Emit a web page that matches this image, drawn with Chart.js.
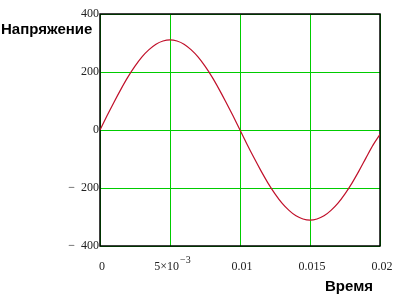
<!DOCTYPE html>
<html>
<head>
<meta charset="utf-8">
<script src="https://cdn.jsdelivr.net/npm/chart.js@4"></script>
<style>
  html, body { margin: 0; padding: 0; background: #fff; }
  canvas { display: block; }
</style>
</head>
<body>
<canvas id="myChart" width="403" height="307"></canvas>
<script>
// time (s) and voltage
const times = [0, 0.0005, 0.001, 0.0015, 0.002, 0.0025, 0.003, 0.0035, 0.004, 0.0045,
               0.005, 0.0055, 0.006, 0.0065, 0.007, 0.0075, 0.008, 0.0085, 0.009, 0.0095,
               0.01, 0.0105, 0.011, 0.0115, 0.012, 0.0125, 0.013, 0.0135, 0.014, 0.0145,
               0.015, 0.0155, 0.016, 0.0165, 0.017, 0.0175, 0.018, 0.0185, 0.019, 0.0195, 0.02];
const voltage = [0, 49, 96, 141, 183, 220, 252, 277, 296, 307,
                 311, 307, 296, 277, 252, 220, 183, 141, 96, 49,
                 0, -49, -96, -141, -183, -220, -252, -277, -296, -307,
                 -311, -307, -296, -277, -252, -220, -183, -141, -96, -52, -15];
const xTicks = [0, 0.005, 0.01, 0.015, 0.02];
const xTickText = ['0', null, '0.01', '0.015', '0.02'];
const yLabel = 'Напряжение';
const xLabel = 'Время';

const serif = "'Liberation Serif', 'Times New Roman', serif";
const sans = "'Liberation Sans', Arial, sans-serif";
const gridGreen = '#00cc00';

const extras = {
    id: 'extras',
    beforeDatasetsDraw(chart) {
        const { ctx, chartArea: a } = chart;
        ctx.save();
        ctx.strokeStyle = '#000';
        ctx.lineWidth = 1.5;
        ctx.strokeRect(a.left, a.top, a.right - a.left, a.bottom - a.top);
        ctx.restore();
    },
    afterDraw(chart) {
        const { ctx } = chart;
        const xs = chart.scales.x;
        ctx.save();
        ctx.fillStyle = '#222';
        ctx.textBaseline = 'alphabetic';
        xTicks.forEach((v, i) => {
            const px = xs.getPixelForValue(v) + 2;
            ctx.font = '12px ' + serif;
            if (xTickText[i] !== null) {
                ctx.textAlign = 'center';
                ctx.fillText(xTickText[i], px, 270);
            } else {
                ctx.textAlign = 'left';
                const base = '5\u00d710';
                const w = ctx.measureText(base).width;
                ctx.font = '10px ' + serif;
                const sw = ctx.measureText('\u22123').width;
                const x0 = px - (w + sw) / 2;
                ctx.font = '12px ' + serif;
                ctx.fillText(base, x0, 270);
                ctx.font = '10px ' + serif;
                ctx.fillText('\u22123', x0 + w + 1, 263);
            }
        });
        ctx.fillStyle = '#000';
        ctx.font = 'bold 15px ' + sans;
        ctx.textAlign = 'left';
        ctx.textBaseline = 'middle';
        ctx.fillText(yLabel, 1, 30);
        ctx.fillText(xLabel, 325, 287);
        ctx.restore();
    }
};

new Chart(document.getElementById('myChart').getContext('2d'), {
    type: 'line',
    data: {
        datasets: [{
            data: times.map((t, i) => ({ x: t, y: voltage[i] })),
            borderColor: '#c0102a',
            borderWidth: 1.2,
            pointRadius: 0,
            fill: false,
            cubicInterpolationMode: 'monotone'
        }]
    },
    options: {
        responsive: false,
        animation: false,
        layout: { padding: { left: 0, top: 14, right: 23, bottom: 0 } },
        plugins: { legend: { display: false }, tooltip: { enabled: false } },
        scales: {
            x: {
                type: 'linear', min: 0, max: 0.02,
                afterBuildTicks: s => { s.ticks = xTicks.map(v => ({ value: v })); },
                afterFit: s => { s.height = 61; },
                ticks: { display: false },
                grid: { color: gridGreen, lineWidth: 1, drawTicks: false },
                border: { display: false }
            },
            y: {
                min: -400, max: 400,
                afterFit: s => { s.width = 100; },
                ticks: {
                    stepSize: 200, padding: 1, color: '#222',
                    font: { family: serif, size: 12 },
                    callback: v => v < 0 ? '\u2212  ' + Math.abs(v) : String(v)
                },
                grid: { color: gridGreen, lineWidth: 1, drawTicks: false },
                border: { display: false }
            }
        }
    },
    plugins: [extras]
});
</script>
</body>
</html>
